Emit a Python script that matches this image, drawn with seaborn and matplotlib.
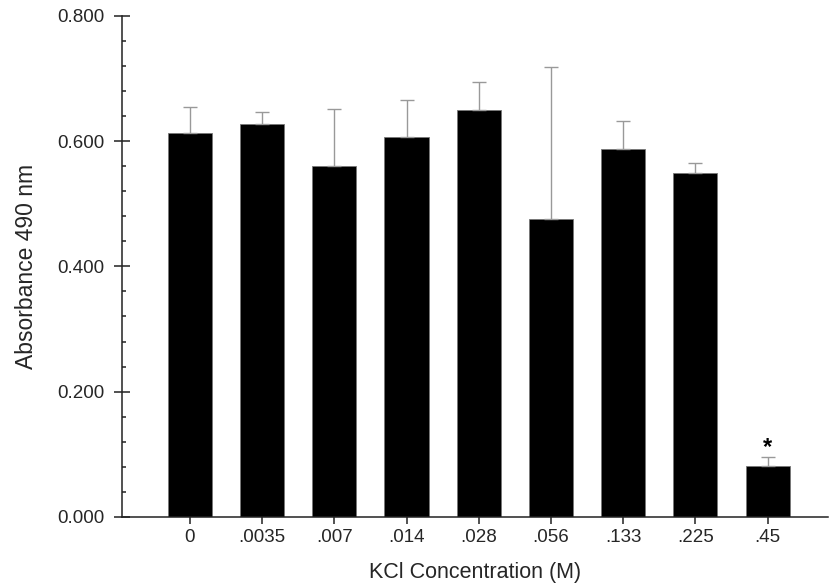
import matplotlib
matplotlib.use("Agg")
import matplotlib.pyplot as plt
from matplotlib.ticker import MultipleLocator, FormatStrFormatter
import seaborn as sns
import pandas as pd

# KCl concentration series (M) and mean absorbance at 490 nm
concentrations = ["0", ".0035", ".007", ".014", ".028", ".056", ".133", ".225", ".45"]
absorbance = [0.613, 0.627, 0.560, 0.606, 0.650, 0.476, 0.587, 0.549, 0.081]
# upper error (SD) for each concentration
sd = [0.041, 0.020, 0.091, 0.059, 0.045, 0.242, 0.045, 0.016, 0.015]
significant = [False, False, False, False, False, False, False, False, True]

df = pd.DataFrame({"KCl": concentrations, "Absorbance": absorbance, "SD": sd})

sns.set_style("ticks")
plt.rcParams["font.family"] = ["Liberation Sans", "DejaVu Sans"]

fig = plt.figure(figsize=(8.30, 5.88), dpi=100)
ax = fig.add_axes([0.147, 0.121, 0.850, 0.852])

sns.barplot(data=df, x="KCl", y="Absorbance", order=concentrations,
            color="black", width=0.61, errorbar=None, ax=ax,
            edgecolor="#777777", linewidth=0.6, saturation=1)

# upper-only error bars
xs = list(range(len(concentrations)))
ax.errorbar(xs, df["Absorbance"], yerr=[[0] * len(sd), df["SD"]],
            fmt="none", ecolor="#999999", elinewidth=1.0, capsize=5,
            capthick=1.0, zorder=1)

# significance marker above the error bar
for x, y, e, sig in zip(xs, absorbance, sd, significant):
    if sig:
        ax.annotate("*", xy=(x, y + e), xytext=(0, 6.5),
                    textcoords="offset points", ha="center", va="center",
                    fontsize=17, fontweight="bold", color="black")

ax.set_xlim(-0.94, 8.83)
ax.set_ylim(0, 0.8)
ax.yaxis.set_major_locator(MultipleLocator(0.2))
ax.yaxis.set_minor_locator(MultipleLocator(0.04))
ax.yaxis.set_major_formatter(FormatStrFormatter("%.3f"))

sns.despine(ax=ax)
for side in ("left", "bottom"):
    ax.spines[side].set_linewidth(1.1)
    ax.spines[side].set_color("#222222")

ax.tick_params(axis="y", which="major", direction="inout", length=11.5,
               width=1.1, labelsize=13.5, color="#222222", pad=7)
ax.tick_params(axis="y", which="minor", direction="in", length=3,
               width=1.1, color="#222222")
ax.tick_params(axis="x", which="major", direction="out", length=5,
               width=1.1, labelsize=13.5, color="#222222", pad=4)

ax.set_xlabel("KCl Concentration (M)", fontsize=15.5, labelpad=11)
ax.set_ylabel("Absorbance 490 nm", fontsize=16.5, labelpad=14)

fig.savefig("out.png", dpi=100)
